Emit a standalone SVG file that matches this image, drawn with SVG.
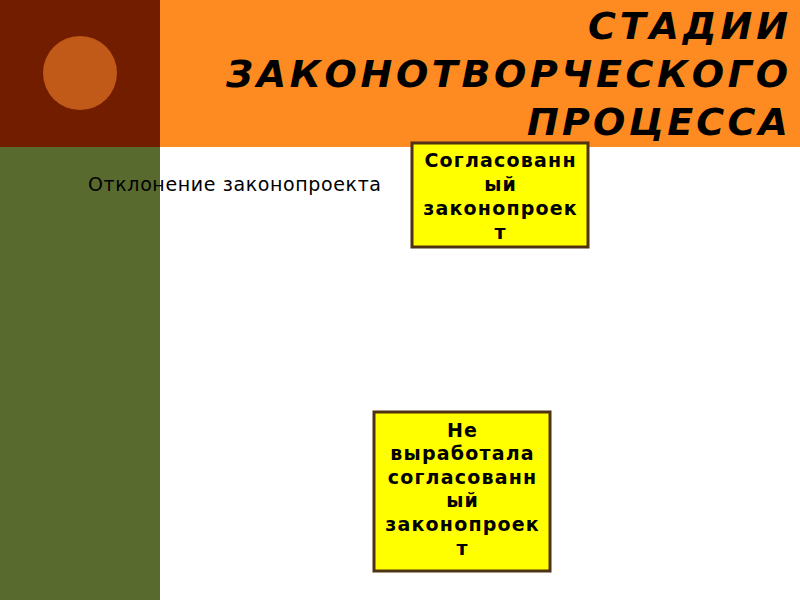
<svg xmlns="http://www.w3.org/2000/svg" width="800" height="600" viewBox="0 0 800 600">
<style>
.title{font-family:"DejaVu Sans",sans-serif;font-weight:bold;font-style:italic;font-size:38px;fill:#000}
.sub{font-family:"DejaVu Sans",sans-serif;font-size:19px;fill:#000}
.box{fill:#ffff00;stroke:#4f3213;stroke-width:3}
.bt{font-family:"DejaVu Sans",sans-serif;font-weight:bold;font-size:19px;fill:#000;text-anchor:middle;letter-spacing:1.2px}
</style>
<rect x="0" y="0" width="800" height="600" fill="#ffffff"/>
<rect x="0" y="0" width="160" height="147" fill="#721d00"/>
<rect x="160" y="0" width="640" height="147" fill="#fe8a22"/>
<rect x="0" y="147" width="160" height="453" fill="#596a2e"/>
<circle cx="80" cy="73" r="37" fill="#c15a18"/>
<g id="title">
<text class="title" x="588" y="39" textLength="200" lengthAdjust="spacing">СТАДИИ</text>
<text class="title" x="226" y="87" textLength="562" lengthAdjust="spacing">ЗАКОНОТВОРЧЕСКОГО</text>
<text class="title" x="527" y="135" textLength="261" lengthAdjust="spacing">ПРОЦЕССА</text>
</g>
<g id="label-otklonenie">
<text class="sub" x="88" y="191" textLength="293" lengthAdjust="spacing">Отклонение законопроекта</text>
</g>
<g id="node-soglasovanny">
<rect class="box" x="412" y="143" width="176" height="104"/>
<text class="bt" x="500.6" y="167">Согласованн</text>
<text class="bt" x="500.6" y="191">ый</text>
<text class="bt" x="500.6" y="215">законопроек</text>
<text class="bt" x="500.6" y="239">т</text>
</g>
<g id="node-ne-vyrabotala">
<rect class="box" x="374" y="412" width="176" height="159"/>
<text class="bt" x="462.6" y="437">Не</text>
<text class="bt" x="462.6" y="460">выработала</text>
<text class="bt" x="462.6" y="484">согласованн</text>
<text class="bt" x="462.6" y="507">ый</text>
<text class="bt" x="462.6" y="531">законопроек</text>
<text class="bt" x="462.6" y="555">т</text>
</g>
<g id="connectors"></g>
</svg>
